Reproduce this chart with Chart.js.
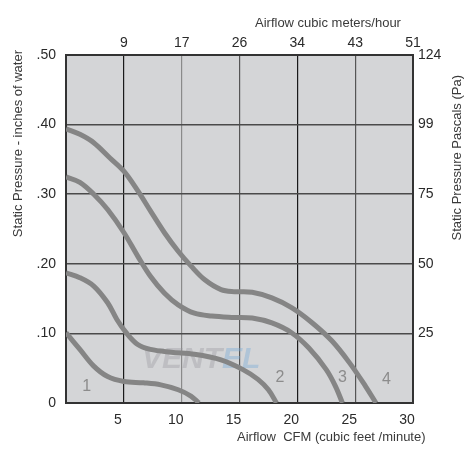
<!DOCTYPE html>
<html>
<head>
<meta charset="utf-8">
<script src="https://cdn.jsdelivr.net/npm/chart.js@4"></script>
<style>
  html, body { margin: 0; padding: 0; background: #fff; }
  #wrap { width: 469px; height: 451px; }
</style>
</head>
<body>
<div id="wrap"><canvas id="fanChart" width="469" height="451"></canvas></div>
<script>
// tick labels
const leftTickLabels = ['0', '.10', '.20', '.30', '.40', '.50'];
const rightTickLabels = ['', '25', '50', '75', '99', '124'];
const bottomTickLabels = ['', '5', '10', '15', '20', '25', '30'];
const topTickLabels = ['', '9', '17', '26', '34', '43', '51'];

// curve 1
const curve1Cfm = [0, 1.2, 2.4, 3.6, 5.0, 6.7, 8.2, 9.7, 10.8, 11.5];
const curve1Pressure = [0.101, 0.077, 0.053, 0.038, 0.031, 0.029, 0.026, 0.019, 0.010, 0];
// curve 2
const curve2Cfm = [0, 1.2, 2.4, 3.6, 4.4, 5.2, 6.2, 7.3, 9.1, 11.1, 13.4, 15.3, 16.6, 17.5, 18.2];
const curve2Pressure = [0.187, 0.180, 0.168, 0.144, 0.120, 0.101, 0.084, 0.077, 0.073, 0.070, 0.062, 0.048, 0.034, 0.019, 0];
// curve 3
const curve3Cfm = [0, 1.2, 2.4, 3.6, 5.0, 6.2, 7.3, 8.5, 9.7, 11.1, 12.6, 14.5, 16.1, 17.8, 19.5, 21.0, 22.5, 23.3, 23.9];
const curve3Pressure = [0.325, 0.317, 0.300, 0.278, 0.245, 0.211, 0.182, 0.158, 0.141, 0.129, 0.125, 0.123, 0.122, 0.115, 0.101, 0.079, 0.048, 0.024, 0];
// curve 4
const curve4Cfm = [0, 1.2, 2.4, 3.8, 5.0, 6.2, 7.3, 8.5, 9.7, 10.8, 12.0, 13.4, 14.6, 16.1, 17.8, 19.5, 21.3, 23.0, 24.5, 25.9, 26.8];
const curve4Pressure = [0.394, 0.386, 0.374, 0.352, 0.333, 0.305, 0.276, 0.245, 0.218, 0.197, 0.177, 0.163, 0.160, 0.159, 0.151, 0.137, 0.115, 0.089, 0.058, 0.024, 0];

// curve numbers, placed in data units
const curveNames = ['1', '2', '3', '4'];
const curveNameCfm = [1.8, 18.5, 23.9, 27.7];
const curveNamePressure = [0.024, 0.036, 0.037, 0.033];

const curves = [
  [curve1Cfm, curve1Pressure],
  [curve2Cfm, curve2Pressure],
  [curve3Cfm, curve3Pressure],
  [curve4Cfm, curve4Pressure]
];

const FONT = '"Liberation Sans", Arial, Helvetica, sans-serif';

// colour for each vertical grid line
function xGridColor(ctx) {
  const v = ctx.tick ? ctx.tick.value : 0;
  if (v === 5 || v === 20) return '#1a1a1a';
  if (v === 10) return '#8a8a8a';
  return '#555';
}

const plotBg = {
  id: 'plotBg',
  beforeDraw(chart) {
    const a = chart.chartArea;
    const c = chart.ctx;
    c.save();
    c.fillStyle = '#d4d5d7';
    c.fillRect(a.left, a.top, a.right - a.left, a.bottom - a.top);
    c.restore();
  },
  beforeDatasetsDraw(chart) {
    // faint watermark
    const c = chart.ctx;
    c.save();
    c.font = 'italic bold 30px ' + FONT;
    c.textBaseline = 'middle';
    c.fillStyle = 'rgba(150,150,155,0.35)';
    c.fillText('VENT', 142, 360);
    const w = c.measureText('VENT').width;
    c.fillStyle = 'rgba(120,170,215,0.4)';
    c.fillText('EL', 142 + w, 360);
    c.restore();
  },
  afterDatasetsDraw(chart) {
    const c = chart.ctx;
    const xs = chart.scales.x, ys = chart.scales.y;
    c.save();
    c.font = '16px ' + FONT;
    c.fillStyle = '#8c8c8c';
    c.textAlign = 'center';
    c.textBaseline = 'middle';
    curveNames.forEach((n, i) => {
      c.fillText(n, xs.getPixelForValue(curveNameCfm[i]), ys.getPixelForValue(curveNamePressure[i]));
    });

    // axis titles
    c.fillStyle = '#3a3a3a';
    c.font = '13px ' + FONT;
    c.textBaseline = 'middle';
    c.textAlign = 'left';
    c.fillText('Airflow cubic meters/hour', 255, 23);
    c.fillText('Airflow  CFM (cubic feet /minute)', 237, 437);

    c.save();
    c.translate(18, 50);
    c.rotate(-Math.PI / 2);
    c.textAlign = 'right';
    c.fillText('Static Pressure - inches of water', 0, 0);
    c.restore();

    c.save();
    c.translate(457, 75);
    c.rotate(-Math.PI / 2);
    c.textAlign = 'right';
    c.fillText('Static Pressure Pascals (Pa)', 0, 0);
    c.restore();
    c.restore();
  }
};

const datasets = curves.map(([xs, ys]) => ({
  data: xs.map((x, i) => ({ x: x, y: ys[i] })),
  borderColor: '#858585',
  borderWidth: 5,
  pointRadius: 0,
  fill: false,
  tension: 0.35,
  xAxisID: 'x',
  yAxisID: 'y'
}));

const tickFont = { family: FONT, size: 14 };

new Chart(document.getElementById('fanChart'), {
  type: 'line',
  data: { datasets: datasets },
  options: {
    responsive: false,
    animation: false,
    devicePixelRatio: 1,
    layout: { padding: 0 },
    plugins: { legend: { display: false }, tooltip: { enabled: false } },
    scales: {
      x: {
        type: 'linear', position: 'bottom', min: 0, max: 30,
        afterFit: s => { s.height = 48; },
        ticks: { stepSize: 5, padding: 9, labelOffset: -6, color: '#2a2a2a', font: tickFont,
                 maxRotation: 0, autoSkip: false,
                 callback: (v, i) => bottomTickLabels[i] },
        grid: { color: xGridColor, lineWidth: 1.2, drawTicks: false },
        border: { color: '#333', width: 2 }
      },
      x2: {
        type: 'linear', position: 'top', min: 0, max: 30,
        afterFit: s => { s.height = 55; },
        ticks: { stepSize: 5, padding: 3, color: '#2a2a2a', font: tickFont,
                 maxRotation: 0, autoSkip: false,
                 callback: (v, i) => topTickLabels[i] },
        grid: { display: false, drawTicks: false },
        border: { color: '#333', width: 2 }
      },
      y: {
        type: 'linear', position: 'left', min: 0, max: 0.5,
        afterFit: s => { s.width = 66; },
        ticks: { stepSize: 0.1, padding: 10, color: '#2a2a2a', font: tickFont,
                 callback: (v, i) => leftTickLabels[i] },
        grid: { color: '#4a4a4a', lineWidth: 1.5, drawTicks: false },
        border: { color: '#333', width: 2 }
      },
      y2: {
        type: 'linear', position: 'right', min: 0, max: 0.5,
        afterFit: s => { s.width = 56; },
        ticks: { stepSize: 0.1, padding: 5, color: '#2a2a2a', font: tickFont,
                 callback: (v, i) => rightTickLabels[i] },
        grid: { display: false, drawTicks: false },
        border: { color: '#333', width: 2 }
      }
    }
  },
  plugins: [plotBg]
});
</script>
</body>
</html>
